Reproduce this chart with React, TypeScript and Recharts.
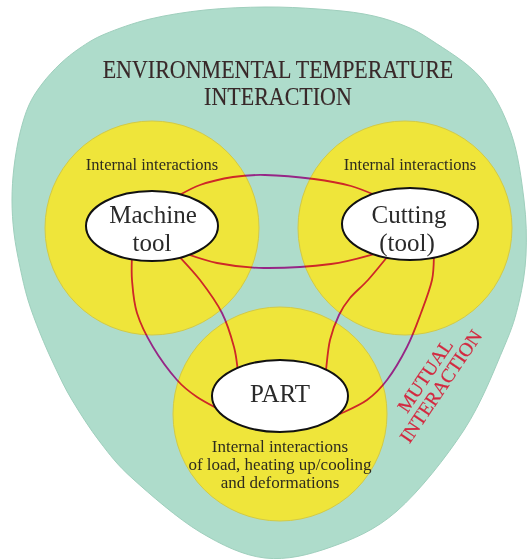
import React from 'react';
import { ScatterChart, Scatter, XAxis, YAxis } from 'recharts';

// Diagram coordinates (1 unit = 1 px of the 528 x 559 canvas)
const envelope = [
  { x: 265, y: 7 }, { x: 318, y: 9 }, { x: 364, y: 14 }, { x: 400, y: 24 },
  { x: 431, y: 40 }, { x: 481, y: 78 }, { x: 511, y: 133 }, { x: 524, y: 200 },
  { x: 526, y: 255 }, { x: 519, y: 302 }, { x: 504, y: 347 }, { x: 464, y: 430 },
  { x: 397, y: 511 }, { x: 331, y: 547 }, { x: 265, y: 558 }, { x: 200, y: 532 },
  { x: 133, y: 479 }, { x: 100, y: 442 }, { x: 72, y: 400 }, { x: 55, y: 367 },
  { x: 40, y: 333 }, { x: 28, y: 300 }, { x: 20, y: 267 }, { x: 14, y: 233 },
  { x: 12, y: 200 }, { x: 14, y: 167 }, { x: 20, y: 133 }, { x: 29, y: 105 },
  { x: 42, y: 84 }, { x: 60, y: 64 }, { x: 80, y: 48 }, { x: 105, y: 34 },
  { x: 150, y: 19 }, { x: 205, y: 10 },
];

const zones = [
  { name: 'Machine tool', x: 152, y: 228, r: 107 },
  { name: 'Cutting (tool)', x: 405, y: 228, r: 107 },
  { name: 'PART', x: 280, y: 414, r: 107 },
];

const linkTopArc = [
  { x: 176, y: 197 }, { x: 200, y: 185 }, { x: 233, y: 177 }, { x: 265, y: 175 },
  { x: 314, y: 179 }, { x: 351, y: 186 }, { x: 382, y: 198 },
];
const linkLowerArc = [
  { x: 178, y: 251 }, { x: 217, y: 263 }, { x: 264, y: 268 }, { x: 331, y: 264 }, { x: 378, y: 253 },
];
const linkMachinePartOuter = [
  { x: 132, y: 254 }, { x: 132, y: 280 }, { x: 137, y: 313 }, { x: 153, y: 347 },
  { x: 177, y: 380 }, { x: 197, y: 397 }, { x: 224, y: 412 },
];
const linkMachinePartInner = [
  { x: 176, y: 253 }, { x: 200, y: 280 }, { x: 222, y: 313 }, { x: 234, y: 347 }, { x: 238, y: 372 },
];
const linkCuttingPartInner = [
  { x: 388, y: 256 }, { x: 368, y: 280 }, { x: 350, y: 298 }, { x: 339, y: 315 },
  { x: 330, y: 340 }, { x: 326, y: 370 },
];
const linkCuttingPartOuter = [
  { x: 434, y: 254 }, { x: 432, y: 280 }, { x: 421, y: 313 }, { x: 407, y: 347 },
  { x: 387, y: 380 }, { x: 367, y: 400 }, { x: 340, y: 414 },
];
const links = [
  linkTopArc, linkLowerArc, linkMachinePartOuter, linkMachinePartInner,
  linkCuttingPartInner, linkCuttingPartOuter,
];

const nodes = [
  { name: 'Machine tool', x: 152, y: 226, rx: 66, ry: 35 },
  { name: 'Cutting (tool)', x: 410, y: 224, rx: 68, ry: 36 },
  { name: 'PART', x: 280, y: 396, rx: 68, ry: 36 },
];

const titleLabels = [
  { x: 278, y: 78, text: 'ENVIRONMENTAL TEMPERATURE' },
  { x: 278, y: 105, text: 'INTERACTION' },
];
const internalLabels = [
  { x: 152, y: 170, text: 'Internal interactions' },
  { x: 410, y: 170, text: 'Internal interactions' },
];
const nodeLabels = [
  { x: 153, y: 223, text: 'Machine' },
  { x: 152, y: 251, text: 'tool' },
  { x: 409, y: 223, text: 'Cutting' },
  { x: 407, y: 251, text: '(tool)' },
  { x: 280, y: 402, text: 'PART' },
];
const partLabels = [
  { x: 280, y: 452, text: 'Internal interactions' },
  { x: 280, y: 470, text: 'of load, heating up/cooling' },
  { x: 280, y: 488, text: 'and deformations' },
];
const mutualLines = ['MUTUAL', 'INTERACTION'];
const mutualAnchor = [{ x: 433, y: 381 }];

const SERIF = '"Liberation Serif", "DejaVu Serif", serif';
const TEAL = '#aedccb';
const YELLOW = '#efe53a';
const LINK = '#dc2ca8';

type P = { x: number; y: number };

function catmull(points: P[], closed: boolean): string {
  const n = points.length;
  if (n < 2) return '';
  const get = (i: number) => {
    if (closed) return points[(i + n) % n];
    return points[Math.max(0, Math.min(n - 1, i))];
  };
  let d = `M${points[0].x},${points[0].y}`;
  const segs = closed ? n : n - 1;
  for (let i = 0; i < segs; i++) {
    const p0 = get(i - 1);
    const p1 = get(i);
    const p2 = get(i + 1);
    const p3 = get(i + 2);
    const c1x = p1.x + (p2.x - p0.x) / 6;
    const c1y = p1.y + (p2.y - p0.y) / 6;
    const c2x = p2.x - (p3.x - p1.x) / 6;
    const c2y = p2.y - (p3.y - p1.y) / 6;
    d += ` C${c1x},${c1y} ${c2x},${c2y} ${p2.x},${p2.y}`;
  }
  if (closed) d += ' Z';
  return d;
}

const Empty = () => <g />;

const makeTextShape = (style: React.SVGProps<SVGTextElement>, stretchY = 1) => (props: any) => (
  <text
    x={props.cx}
    y={props.cy / stretchY}
    transform={stretchY !== 1 ? `scale(1, ${stretchY})` : undefined}
    textAnchor="middle"
    fontFamily={SERIF}
    {...style}
  >
    {props.payload.text}
  </text>
);

const TitleShape = makeTextShape({ fontSize: 22, fill: '#382829', stroke: '#382829', strokeWidth: 0.12 }, 1.12);
const InternalShape = makeTextShape({ fontSize: 16.5, fill: '#2e2c1e' });
const NodeTextShape = makeTextShape({ fontSize: 25, fill: '#2a2a2a' });
const PartTextShape = makeTextShape({ fontSize: 17, fill: '#2e2c1e' });

const ZoneShape = (props: any) => (
  <circle cx={props.cx} cy={props.cy} r={props.payload.r} fill={YELLOW} stroke="#d2ca46" strokeWidth={1} />
);

const NodeShape = (props: any) => (
  <ellipse
    cx={props.cx}
    cy={props.cy}
    rx={props.payload.rx}
    ry={props.payload.ry}
    fill="#ffffff"
    stroke="#111111"
    strokeWidth={2}
  />
);

const MutualShape = (props: any) => {
  const { cx, cy } = props;
  const gap = 19;
  return (
    <g transform={`rotate(-56, ${cx}, ${cy})`}>
      {mutualLines.map((t, i) => (
        <text
          key={t}
          x={cx}
          y={cy + (i - (mutualLines.length - 1) / 2) * gap + 6.5}
          textAnchor="middle"
          fontFamily={SERIF}
          fontSize={19.5}
          fill="#d3283f"
          stroke="#d3283f"
          strokeWidth={0.2}
        >
          {t}
        </text>
      ))}
    </g>
  );
};

export default function App() {
  return (
    <div style={{ position: 'absolute', left: 0, top: 0, width: 528, height: 559, background: '#ffffff' }}>
      <ScatterChart width={528} height={559} margin={{ top: 0, right: 0, bottom: 0, left: 0 }}>
        <XAxis type="number" dataKey="x" domain={[0, 528]} hide />
        <YAxis type="number" dataKey="y" domain={[0, 559]} reversed hide />
        <Scatter
          data={envelope}
          isAnimationActive={false}
          shape={Empty}
          line={(p: any) => (
            <path d={catmull(p.points, true)} fill={TEAL} stroke="#9fcfbd" strokeWidth={1} />
          )}
        />
        <Scatter data={zones} isAnimationActive={false} shape={ZoneShape} />
        {links.map((pts, i) => (
          <Scatter
            key={`link-${i}`}
            data={pts}
            isAnimationActive={false}
            shape={Empty}
            line={(p: any) => (
              <path
                d={catmull(p.points, false)}
                fill="none"
                stroke={LINK}
                strokeWidth={1.8}
                style={{ mixBlendMode: 'multiply' }}
              />
            )}
          />
        ))}
        <Scatter data={nodes} isAnimationActive={false} shape={NodeShape} />
        <Scatter data={titleLabels} isAnimationActive={false} shape={TitleShape} />
        <Scatter data={internalLabels} isAnimationActive={false} shape={InternalShape} />
        <Scatter data={nodeLabels} isAnimationActive={false} shape={NodeTextShape} />
        <Scatter data={partLabels} isAnimationActive={false} shape={PartTextShape} />
        <Scatter data={mutualAnchor} isAnimationActive={false} shape={MutualShape} />
      </ScatterChart>
    </div>
  );
}
